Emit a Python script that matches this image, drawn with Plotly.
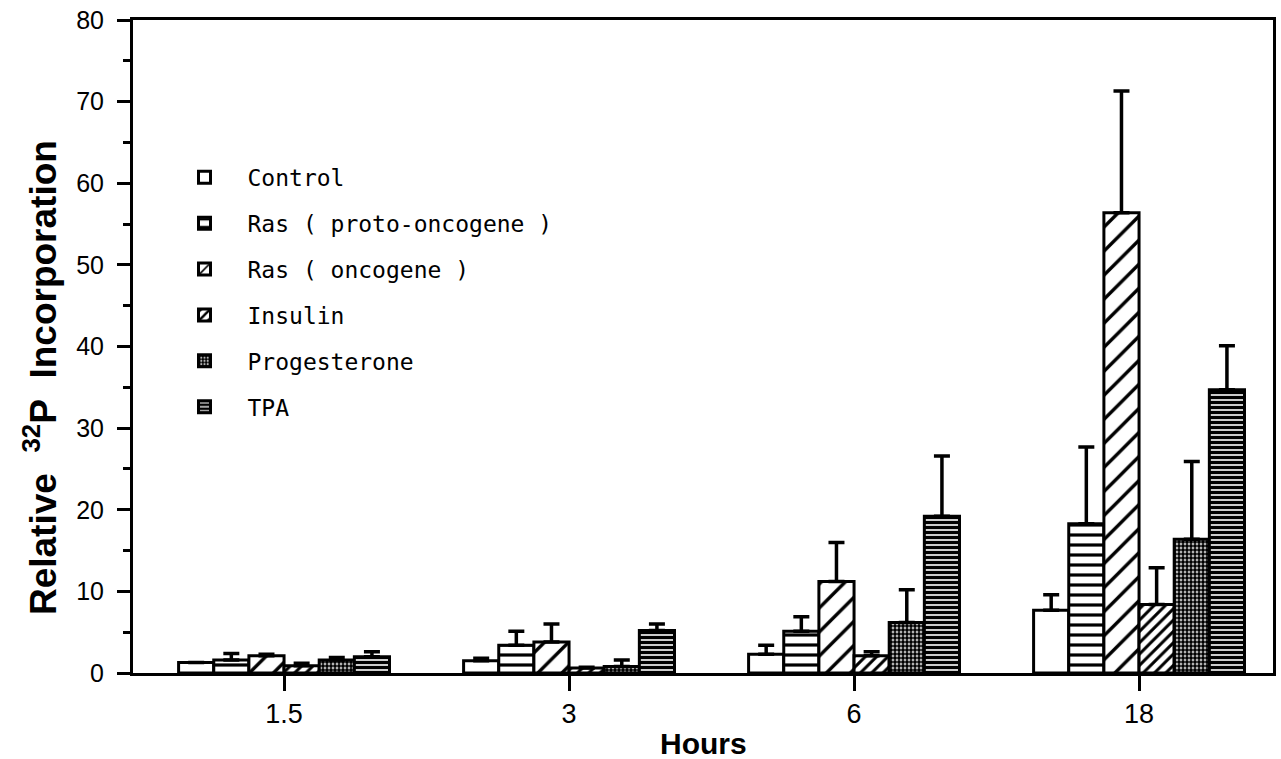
import plotly.graph_objects as go

# ---- data ----
hours = ["1.5", "3", "6", "18"]

series_names = ["Control", "Ras ( proto-oncogene )", "Ras ( oncogene )",
                "Insulin", "Progesterone", "TPA"]

control = [1.3, 1.5, 2.3, 7.7]
ras_proto = [1.6, 3.4, 5.1, 18.3]
ras_onc = [2.1, 3.8, 11.2, 56.4]
insulin = [0.9, 0.6, 2.1, 8.4]
progesterone = [1.6, 0.8, 6.2, 16.4]
tpa = [2.0, 5.2, 19.2, 34.7]

control_err = [0.0, 0.3, 1.1, 1.9]
ras_proto_err = [0.8, 1.7, 1.8, 9.4]
ras_onc_err = [0.2, 2.2, 4.8, 14.9]
insulin_err = [0.3, 0.1, 0.5, 4.5]
progesterone_err = [0.3, 0.8, 4.0, 9.5]
tpa_err = [0.6, 0.8, 7.4, 5.4]

y_ticks = [0, 10, 20, 30, 40, 50, 60, 70, 80]

values = [control, ras_proto, ras_onc, insulin, progesterone, tpa]
errors = [control_err, ras_proto_err, ras_onc_err, insulin_err, progesterone_err, tpa_err]

# ---- styles ----
patterns = [
    dict(shape=""),
    dict(shape="-", size=10, solidity=0.32),
    dict(shape="/", size=17, solidity=0.2),
    dict(shape="/", size=8, solidity=0.38),
    dict(shape=".", size=4, solidity=0.75),
    dict(shape="-", size=5, solidity=0.68),
]

fig = go.Figure()
for name, vals, errs, pat in zip(series_names, values, errors, patterns):
    p = dict(pat)
    p.update(fgcolor="black", bgcolor="white", fillmode="replace", fgopacity=1)
    fig.add_trace(go.Bar(
        x=hours, y=vals, name=name, legendgroup=name,
        marker=dict(color="white", line=dict(color="black", width=3), pattern=p),
        error_y=dict(type="data", symmetric=False, array=errs,
                     arrayminus=[0] * len(errs),
                     color="black", thickness=3.5, width=8),
    ))

L, R, T, B = 133, 5, 20, 86

fig.update_layout(
    width=1281, height=759,
    margin=dict(l=L, r=R, t=T, b=B),
    paper_bgcolor="white", plot_bgcolor="white",
    barmode="group", bargap=0.26, bargroupgap=0,
    showlegend=True,
    legend=dict(
        x=0.025, y=0.792, xanchor="left", yanchor="top",
        font=dict(family="DejaVu Sans Mono", size=23, color="black"),
        bgcolor="rgba(0,0,0,0)", borderwidth=0,
        itemwidth=76, tracegroupgap=13, traceorder="grouped",
    ),
    xaxis=dict(
        type="category", range=[-0.53, 3.47],
        showline=True, linecolor="black", linewidth=3, mirror=True,
        ticks="outside", ticklen=15, tickwidth=3, tickcolor="black",
        tickfont=dict(family="Liberation Sans", size=27, color="black"),
        showgrid=False, zeroline=False,
    ),
    yaxis=dict(
        range=[0, 80], tickvals=y_ticks,
        showline=True, linecolor="black", linewidth=3, mirror=True,
        ticks="outside", ticklen=13, tickwidth=3, tickcolor="black",
        ticklabelstandoff=8,
        minor=dict(dtick=5, ticks="outside", ticklen=7, tickwidth=3, tickcolor="black"),
        tickfont=dict(family="Liberation Sans", size=25, color="black"),
        showgrid=False, zeroline=False,
    ),
    annotations=[
        dict(text="<b>Hours</b>", xref="paper", yref="paper",
             x=0.5, y=-0.1087, xanchor="center", yanchor="middle", showarrow=False,
             font=dict(family="Liberation Sans", size=30, color="black")),
        dict(text="<b>Relative\u00a0\u00a0<sup>32</sup>P\u00a0\u00a0Incorporation</b>",
             xref="paper", yref="paper", textangle=-90,
             x=(41 - L) / (1281 - L - R), y=0.452, xanchor="center", yanchor="middle",
             showarrow=False,
             font=dict(family="Liberation Sans", size=37, color="black")),
    ],
)

fig.write_html("out.html")
